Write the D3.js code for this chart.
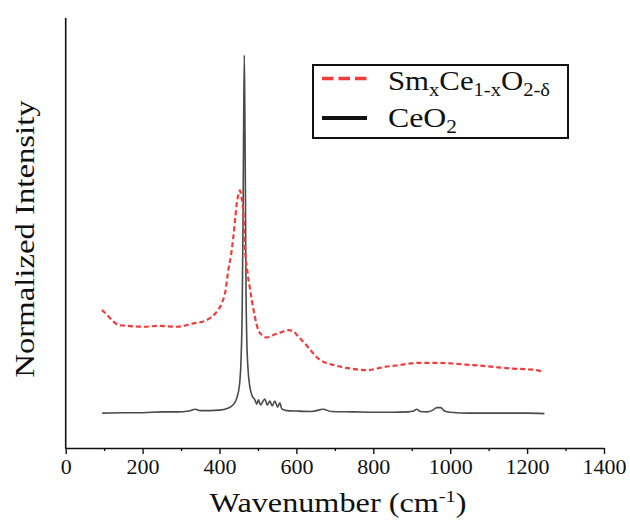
<!DOCTYPE html>
<html>
<head>
<meta charset="utf-8">
<script src="https://cdn.jsdelivr.net/npm/d3@7"></script>
<style>
  html, body { margin: 0; padding: 0; background: #fff; }
  svg { display: block; }
  text { font-family: "Liberation Serif", "DejaVu Serif", serif; fill: #111; }
</style>
</head>
<body>
<svg id="chart" width="630" height="523"></svg>
<script>
// Raman spectra, normalized intensity vs. wavenumber (cm^-1)
const ceo2Wavenumber = [95, 150, 200, 250, 290, 320, 337, 350, 375, 400, 420, 435, 445, 452, 456, 459, 461, 462.5,
  464.5, 466, 467.5, 469, 471, 474, 479, 485, 492, 497, 501, 507, 512, 518, 524, 531, 537, 544, 551, 557, 562,
  575, 600, 640, 670, 690, 750, 800, 850, 890, 905, 913, 922, 940, 955, 965, 975, 985, 1000, 1050, 1100, 1150, 1200, 1245];
const ceo2Intensity = [0.081, 0.082, 0.082, 0.084, 0.084, 0.086, 0.090, 0.087, 0.087, 0.088, 0.092, 0.100, 0.116, 0.147, 0.205, 0.321, 0.507, 0.716,
  0.914, 0.774, 0.577, 0.367, 0.251, 0.186, 0.142, 0.121, 0.112, 0.102, 0.112, 0.100, 0.107, 0.114, 0.100, 0.109, 0.098, 0.109, 0.095, 0.105, 0.091,
  0.087, 0.086, 0.085, 0.090, 0.085, 0.084, 0.083, 0.083, 0.084, 0.086, 0.090, 0.085, 0.084, 0.088, 0.094, 0.094, 0.086, 0.083, 0.081, 0.081, 0.081, 0.081, 0.080];

const smceWavenumber = [94, 105, 120, 137, 160, 200, 245, 290, 332, 360, 375, 390, 406, 415, 423, 430, 436, 441, 445, 449, 453,
  457, 462, 466, 473, 479, 484, 492, 501, 510, 523, 540, 557, 579, 592, 601, 622, 644, 661, 680, 696, 739, 783, 826, 869, 917,
  960, 1000, 1040, 1086, 1120, 1156, 1200, 1225, 1242];
const smceIntensity = [0.321, 0.312, 0.298, 0.286, 0.284, 0.282, 0.284, 0.282, 0.290, 0.295, 0.302, 0.314, 0.337, 0.363, 0.414, 0.449, 0.491, 0.535, 0.570, 0.588, 0.599,
  0.584, 0.547, 0.468, 0.407, 0.372, 0.344, 0.305, 0.274, 0.263, 0.257, 0.263, 0.268, 0.274, 0.272, 0.263, 0.243, 0.220, 0.205, 0.197, 0.193, 0.185, 0.181, 0.188, 0.193, 0.198,
  0.198, 0.197, 0.194, 0.191, 0.188, 0.185, 0.183, 0.181, 0.176];

const xTickValues = [0, 200, 400, 600, 800, 1000, 1200, 1400];
const xMinorTickValues = [100, 300, 500, 700, 900, 1100, 1300];

const serif = '"Liberation Serif", "DejaVu Serif", serif';

const svg = d3.select("#chart");
svg.append("rect").attr("width", 630).attr("height", 523).attr("fill", "#fff");

const x = d3.scaleLinear().domain([0, 1400]).range([65.7, 604]);
const y = d3.scaleLinear().domain([0, 1]).range([448, 18]);

const series = [
  { key: "smce", wn: smceWavenumber, val: smceIntensity, color: "#f23b3b", width: 2.2, dash: "5,3" },
  { key: "ceo2", wn: ceo2Wavenumber, val: ceo2Intensity, color: "#4a4a4a", width: 1.6, dash: null }
];

const line = d3.line().x(d => x(d[0])).y(d => y(d[1])).curve(d3.curveMonotoneX);

// black reference spectrum underneath, doped spectrum on top
[series[1], series[0]].forEach(s => {
  const pts = s.wn.map((w, i) => [w, s.val[i]]);
  svg.append("path")
    .datum(pts)
    .attr("d", line)
    .attr("fill", "none")
    .attr("stroke", s.color)
    .attr("stroke-width", s.width)
    .attr("stroke-linejoin", "round")
    .attr("stroke-dasharray", s.dash);
});

// x axis with major and minor ticks
const xAxis = svg.append("g").attr("transform", `translate(0,${y(0)})`);
xAxis.call(d3.axisBottom(x).tickValues(xTickValues).tickSize(6).tickPadding(4).tickSizeOuter(0).tickFormat(d3.format("d")));
xAxis.attr("font-family", null);
xAxis.select(".domain").attr("stroke", "#111").attr("stroke-width", 1.6);
xAxis.selectAll(".tick line").attr("stroke", "#111").attr("stroke-width", 1.4);
xAxis.selectAll(".tick text")
  .style("font-family", serif)
  .style("font-size", "22px")
  .attr("fill", "#111");

svg.append("g").attr("transform", `translate(0,${y(0)})`)
  .call(d3.axisBottom(x).tickValues(xMinorTickValues).tickSize(3).tickSizeOuter(0).tickFormat(""))
  .call(g => g.select(".domain").remove())
  .selectAll(".tick line").attr("stroke", "#111").attr("stroke-width", 1.4);

// y axis line only
svg.append("line")
  .attr("x1", x(0)).attr("x2", x(0))
  .attr("y1", y(0) + 0.8).attr("y2", y(1))
  .attr("stroke", "#111").attr("stroke-width", 1.6);

// horizontal stretch factor that brings a text element to a target width
function fitText(sel, target) {
  const w = sel.node().getBBox().width;
  return target / w;
}

// axis titles
const xt = svg.append("text").attr("text-anchor", "middle").style("font-size", "27px");
xt.append("tspan").text("Wavenumber (cm");
xt.append("tspan").style("font-size", "17px").attr("dy", -10).text("-1");
xt.append("tspan").attr("dy", 10).text(")");
const sx = fitText(xt, 257);
xt.attr("transform", `translate(338,512) scale(${sx},1)`);

const yt = svg.append("text").attr("text-anchor", "middle").style("font-size", "27px").text("Normalized Intensity");
const sy = fitText(yt, 278);
yt.attr("transform", `translate(34,239) rotate(-90) scale(${sy},1)`);

// legend
const legend = svg.append("g");
legend.append("rect")
  .attr("x", 313).attr("y", 65).attr("width", 255).attr("height", 73)
  .attr("fill", "#fff").attr("stroke", "#111").attr("stroke-width", 2);

legend.append("line")
  .attr("x1", 322).attr("x2", 367).attr("y1", 78.5).attr("y2", 78.5)
  .attr("stroke", series[0].color).attr("stroke-width", 3.6).attr("stroke-dasharray", "11.5,5");
legend.append("line")
  .attr("x1", 322).attr("x2", 367).attr("y1", 118).attr("y2", 118)
  .attr("stroke", "#111").attr("stroke-width", 4);

const l1 = legend.append("text").style("font-size", "27px");
l1.append("tspan").text("Sm");
l1.append("tspan").style("font-size", "18px").attr("dy", 6).text("x");
l1.append("tspan").attr("dy", -6).text("Ce");
l1.append("tspan").style("font-size", "18px").attr("dy", 6).text("1-x");
l1.append("tspan").attr("dy", -6).text("O");
l1.append("tspan").style("font-size", "18px").attr("dy", 6).text("2-δ");
const s1 = fitText(l1, 162);
l1.attr("transform", `translate(388,90) scale(${s1},1)`);

const l2 = legend.append("text").style("font-size", "27px");
l2.append("tspan").text("CeO");
l2.append("tspan").style("font-size", "18px").attr("dy", 6).text("2");
const s2 = fitText(l2, 69);
l2.attr("transform", `translate(388,127) scale(${s2},1)`);
</script>
</body>
</html>
